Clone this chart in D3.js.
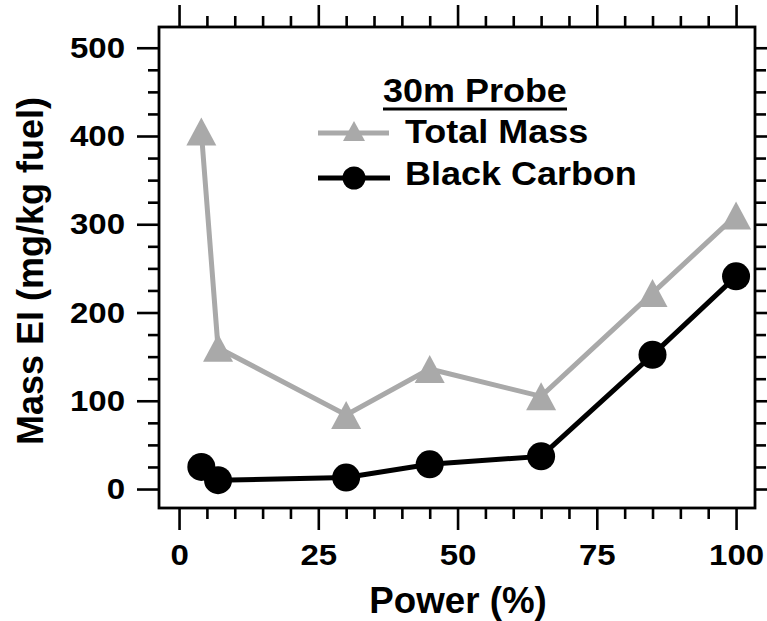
<!DOCTYPE html>
<html>
<head>
<meta charset="utf-8">
<script src="https://cdn.jsdelivr.net/npm/d3@7"></script>
<style>
  body { margin: 0; background: #fff; }
  svg text { font-family: "Liberation Sans", Arial, sans-serif; font-weight: bold; fill: #000; }
</style>
</head>
<body>
<div id="chart"></div>
<script>
// Datos
const power = [4, 7, 30, 45, 65, 85, 100];
const totalMass = [405, 160, 84, 136, 105, 222, 310];
const blackCarbon = [25, 10, 13, 28, 37, 152, 241];
const yTicks = [0, 100, 200, 300, 400, 500];
const xTicks = [0, 25, 50, 75, 100];

const COLOR_GREY = '#a9a9a9', COLOR_BLACK = '#000';
const STRETCH = 1.1;

let width = 767, height = 621;

let svg = d3.select('#chart')
    .append('svg')
        .attr('width', width)
        .attr('height', height);

let x = d3.scaleLinear()
    .domain([-3.6, 103.4])
    .range([159, 755]);

let y = d3.scaleLinear()
    .domain([-21.5, 523.5])
    .range([508, 27]);

let minorX = d3.range(0, 101, 5).filter(d => d % 25 !== 0);
let minorY = d3.range(0, 501, 25).filter(d => d % 100 !== 0);

function styleAxis(g) {
    g.select('.domain').remove();
    g.selectAll('line').attr('stroke', '#000').attr('stroke-width', 2.6);
    g.selectAll('text').style('font-size', '30px').attr('fill', '#000');
}

// Ejes
svg.append('g').attr('transform', 'translate(0,508)')
    .call(d3.axisBottom(x).tickValues(xTicks).tickSize(22).tickPadding(14).tickFormat(d3.format('d')))
    .call(styleAxis)
    .call(g => g.selectAll('text').attr('transform', 'scale(' + STRETCH + ',1)'));
svg.append('g').attr('transform', 'translate(0,508)')
    .call(d3.axisBottom(x).tickValues(minorX).tickSize(11).tickFormat(''))
    .call(styleAxis);
svg.append('g').attr('transform', 'translate(0,27)')
    .call(d3.axisTop(x).tickValues(xTicks).tickSize(22).tickFormat(''))
    .call(styleAxis);
svg.append('g').attr('transform', 'translate(0,27)')
    .call(d3.axisTop(x).tickValues(minorX).tickSize(11).tickFormat(''))
    .call(styleAxis);

svg.append('g').attr('transform', 'translate(159,0)')
    .call(d3.axisLeft(y).tickValues(yTicks).tickSize(22).tickPadding(12).tickFormat(d3.format('d')))
    .call(styleAxis)
    .call(g => g.selectAll('text')
        .attr('x', -34 / STRETCH)
        .attr('transform', 'scale(' + STRETCH + ',1)'));
svg.append('g').attr('transform', 'translate(159,0)')
    .call(d3.axisLeft(y).tickValues(minorY).tickSize(11).tickFormat(''))
    .call(styleAxis);
svg.append('g').attr('transform', 'translate(755,0)')
    .call(d3.axisRight(y).tickValues(yTicks).tickSize(22).tickFormat(''))
    .call(styleAxis);
svg.append('g').attr('transform', 'translate(755,0)')
    .call(d3.axisRight(y).tickValues(minorY).tickSize(11).tickFormat(''))
    .call(styleAxis);

// Marco
svg.append('rect')
    .attr('x', x.range()[0])
    .attr('y', y.range()[1])
    .attr('width', x.range()[1] - x.range()[0])
    .attr('height', y.range()[0] - y.range()[1])
    .attr('fill', 'none')
    .attr('stroke', '#000')
    .attr('stroke-width', 2.8);

// Titulos de ejes
svg.append('text')
    .attr('transform', 'translate(43,271) rotate(-90)')
    .attr('text-anchor', 'middle')
    .style('font-size', '36px')
    .text('Mass EI (mg/kg fuel)');

svg.append('text')
    .attr('transform', 'translate(458,613) scale(1.02,1)')
    .attr('text-anchor', 'middle')
    .style('font-size', '36px')
    .text('Power (%)');

function triPath(w, h) {
    return 'M0,' + (-h / 2) + 'L' + (w / 2) + ',' + (h / 2) + 'L' + (-w / 2) + ',' + (h / 2) + 'Z';
}

let line = d3.line()
    .x(d => x(d[0]))
    .y(d => y(d[1]));

// Total Mass
svg.append('path')
    .datum(d3.zip(power, totalMass))
    .attr('d', line)
    .attr('fill', 'none')
    .attr('stroke', COLOR_GREY)
    .attr('stroke-width', 5);

svg.append('g')
    .selectAll('path')
    .data(d3.zip(power, totalMass))
    .enter()
    .append('path')
    .attr('transform', d => 'translate(' + x(d[0]) + ',' + y(d[1]) + ')')
    .attr('d', triPath(30, 28))
    .attr('fill', COLOR_GREY);

// Black Carbon
svg.append('path')
    .datum(d3.zip(power, blackCarbon))
    .attr('d', line)
    .attr('fill', 'none')
    .attr('stroke', COLOR_BLACK)
    .attr('stroke-width', 5);

svg.append('g')
    .selectAll('circle')
    .data(d3.zip(power, blackCarbon))
    .enter()
    .append('circle')
    .attr('cx', d => x(d[0]))
    .attr('cy', d => y(d[1]))
    .attr('r', 14)
    .attr('fill', COLOR_BLACK);

// Leyenda
let legend = svg.append('g');

function legendText(px, py, txt) {
    return legend.append('text')
        .attr('transform', 'translate(' + px + ',' + py + ') scale(1.09,1)')
        .style('font-size', '33px')
        .text(txt);
}

legendText(383, 102, '30m Probe');
legend.append('line')
    .attr('x1', 383).attr('x2', 567)
    .attr('y1', 109).attr('y2', 109)
    .attr('stroke', '#000')
    .attr('stroke-width', 3);

legend.append('line')
    .attr('x1', 318).attr('x2', 389)
    .attr('y1', 133).attr('y2', 133)
    .attr('stroke', COLOR_GREY)
    .attr('stroke-width', 5);
legend.append('path')
    .attr('transform', 'translate(354,131)')
    .attr('d', triPath(22, 20))
    .attr('fill', COLOR_GREY);
legendText(405, 143, 'Total Mass');

legend.append('line')
    .attr('x1', 318).attr('x2', 390)
    .attr('y1', 178).attr('y2', 178)
    .attr('stroke', COLOR_BLACK)
    .attr('stroke-width', 5);
legend.append('circle')
    .attr('cx', 354)
    .attr('cy', 178)
    .attr('r', 11.5)
    .attr('fill', COLOR_BLACK);
legendText(405, 185, 'Black Carbon');
</script>
</body>
</html>
